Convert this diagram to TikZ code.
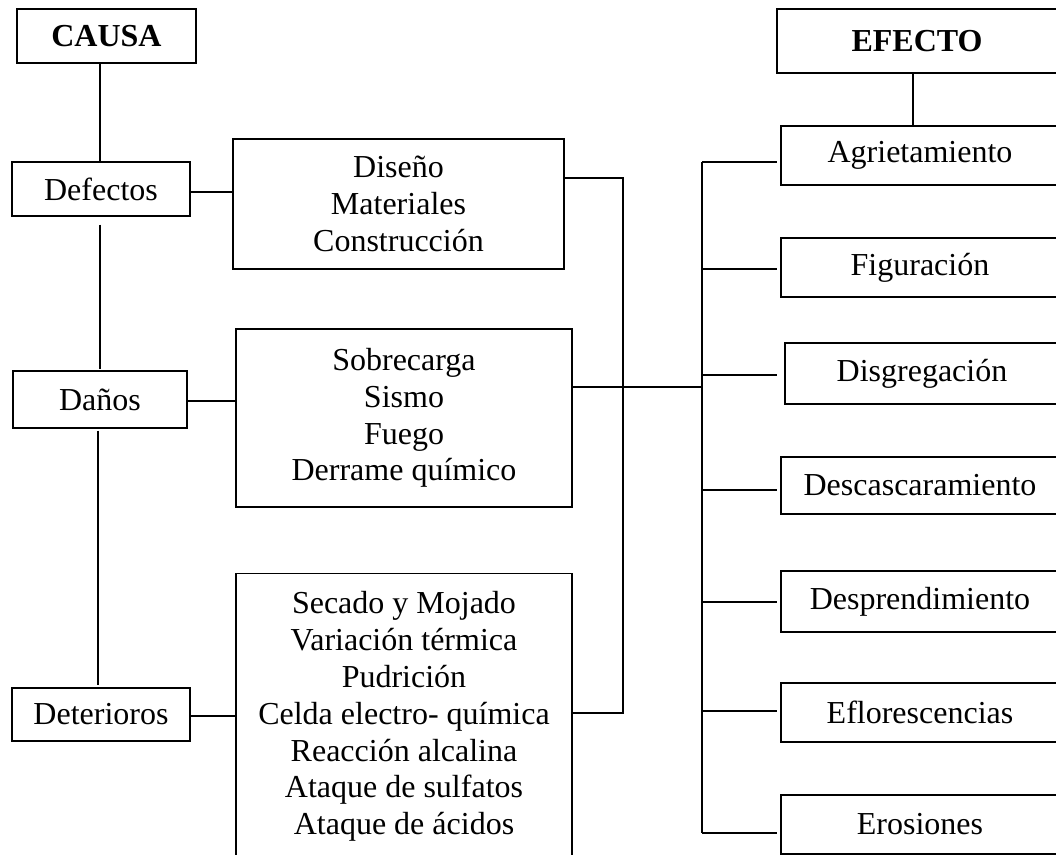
\documentclass[tikz,border=0pt]{standalone}
\usepackage{fontspec}
\setmainfont{Liberation Serif}
\begin{document}
\begin{tikzpicture}[x=1pt,y=-1pt,
  box/.style={draw, line width=1.3pt, inner sep=0pt, align=center, font=\fontsize{32}{36.8}\selectfont},
  hdr/.style={box, font=\fontsize{32}{36.8}\selectfont\bfseries},
  conn/.style={line width=1.8pt}]
\useasboundingbox (0,0) rectangle (1056,854);
\clip (0,0) rectangle (1056,854);
% left column
\node[hdr, minimum width=179, minimum height=54] (causa) at (106.5,36) {CAUSA};
\node[box, minimum width=178, minimum height=54] (defectos) at (101,189) {Defectos};
\node[box, minimum width=174, minimum height=57] (danos) at (100,399.5) {Daños};
\node[box, minimum width=178, minimum height=53] (deter) at (101,714.5) {Deterioros};
% middle column
\node[box, minimum width=331, minimum height=130] (diseno) at (398.5,204) {Diseño\\Materiales\\Construcción};
\node[box, minimum width=336, minimum height=178] (sobre) at (404,418) {Sobrecarga\\Sismo\\Fuego\\Derrame químico};
\node[box, minimum width=336, inner ysep=18pt, anchor=north] (lista) at (404,573) {Secado y Mojado\\Variación térmica\\Pudrición\\Celda electro- química\\Reacción alcalina\\Ataque de sulfatos\\Ataque de ácidos};
% right column
\node[hdr, minimum width=280, minimum height=64] (efecto) at (917,41) {EFECTO};
\node[box, minimum width=278, minimum height=59] (agri) at (920,155.5) {Agrietamiento};
\node[box, minimum width=278, minimum height=59] (figu) at (920,267.5) {Figuración};
\node[box, minimum width=274, minimum height=61] (disg) at (922,373.5) {Disgregación};
\node[box, minimum width=278, minimum height=57] (desc) at (920,485.5) {Descascaramiento};
\node[box, minimum width=278, minimum height=61] (desp) at (920,601.5) {Desprendimiento};
\node[box, minimum width=278, minimum height=59] (eflo) at (920,712.5) {Eflorescencias};
\node[box, minimum width=278, minimum height=59] (eros) at (920,824.5) {Erosiones};
% left connectors
\draw[conn] (causa.south -| 100,0) -- (defectos.north -| 100,0);
\draw[conn] (defectos.south -| 100,0) ++(0,8) -- ([yshift=1pt]danos.north -| 100,0);
\draw[conn] ([yshift=-2pt]danos.south -| 98,0) -- ([yshift=2pt]deter.north -| 98,0);
\draw[conn] (defectos.east |- 0,192) -- (diseno.west |- 0,192);
\draw[conn] (danos.east |- 0,401) -- (sobre.west |- 0,401);
\draw[conn] (deter.east |- 0,716) -- (lista.west |- 0,716);
% middle connectors
\coordinate (m1) at (623,178);
\coordinate (m2) at (623,713);
\draw[conn] (diseno.east |- m1) -- (m1) -- (m2) -- (lista.east |- m2);
\coordinate (r1) at (702,162);
\coordinate (r7) at (702,833);
\draw[conn] (sobre.east |- 0,387) -- (r1 |- 0,387);
\draw[conn] (r1) -- (r7);
% right branches
\draw[conn] (r1) -- ([xshift=-3pt]agri.west |- r1);
\draw[conn] (702,269) -- ([xshift=-3pt]figu.west |- 0,269);
\draw[conn] (702,375) -- ([xshift=-7pt]disg.west |- 0,375);
\draw[conn] (702,490) -- ([xshift=-3pt]desc.west |- 0,490);
\draw[conn] (702,602) -- ([xshift=-3pt]desp.west |- 0,602);
\draw[conn] (702,711) -- ([xshift=-3pt]eflo.west |- 0,711);
\draw[conn] (r7) -- ([xshift=-3pt]eros.west |- r7);
\draw[conn] (efecto.south -| 913,0) -- (agri.north -| 913,0);
\end{tikzpicture}
\end{document}
